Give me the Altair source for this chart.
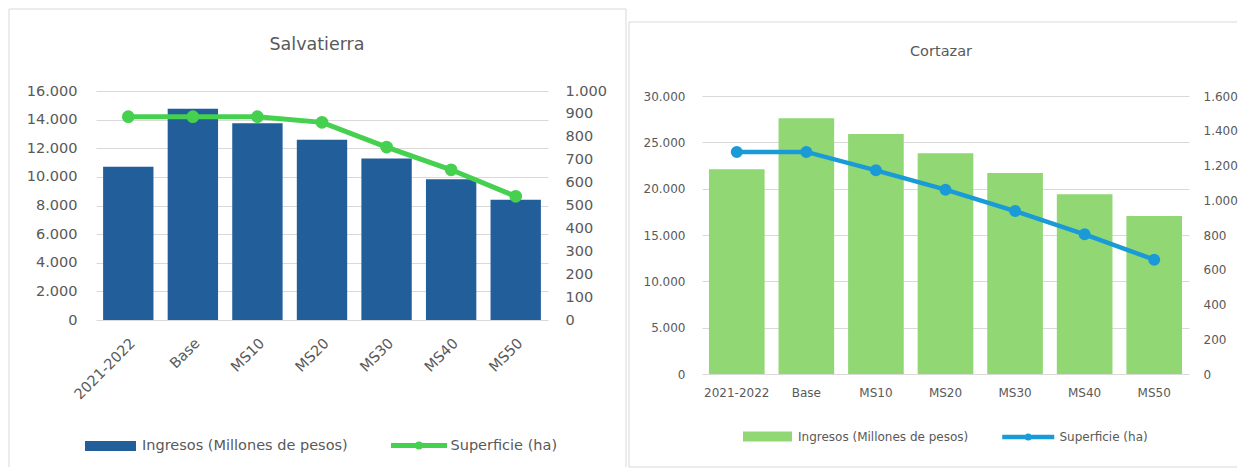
import altair as alt
import pandas as pd

# ---------------- data ----------------
categorias = ["2021-2022", "Base", "MS10", "MS20", "MS30", "MS40", "MS50"]

salv_titulo = "Salvatierra"
salv_ingresos = [10700, 14760, 13740, 12590, 11290, 9840, 8400]
salv_superficie = [888, 888, 888, 863, 755, 656, 540]
salv_ticks_izq = [0, 2000, 4000, 6000, 8000, 10000, 12000, 14000, 16000]
salv_ticks_der = [0, 100, 200, 300, 400, 500, 600, 700, 800, 900, 1000]

cort_titulo = "Cortazar"
cort_ingresos = [22090, 27590, 25900, 23820, 21690, 19390, 17050]
cort_superficie = [1278, 1278, 1172, 1061, 938, 804, 658]
cort_ticks_izq = [0, 5000, 10000, 15000, 20000, 25000, 30000]
cort_ticks_der = [0, 200, 400, 600, 800, 1000, 1200, 1400, 1600]

serie_ingresos = "Ingresos (Millones de pesos)"
serie_superficie = "Superficie (ha)"

# ---------------- style ----------------
FONT = "DejaVu Sans"
TEXT = "#595959"
GRID = "#d9d9d9"
BAR_PATH = "M-1,-0.2H1V0.2H-1Z"
LINE_PATH = "M-1,0H1M-0.05,0A0.05,0.05,0,1,0,0.05,0A0.05,0.05,0,1,0,-0.05,0"
LABEL_EXPR = "replace(format(datum.value, ','), ',', '.')"

deco_df = pd.DataFrame({"k": [0]})


def rule(x1, x2, y1, y2):
    return alt.Chart(deco_df).mark_rule(color=GRID, strokeWidth=1).encode(
        x=alt.value(x1), x2=alt.value(x2), y=alt.value(y1), y2=alt.value(y2)
    )


def panel(p):
    df = pd.DataFrame({
        "categoria": categorias,
        "ingresos": p["ingresos"],
        "superficie": p["superficie"],
    })
    base = alt.Chart(df).transform_calculate(
        s_ing="'" + serie_ingresos + "'",
        s_sup="'" + serie_superficie + "'",
    )
    fs = p["fs"]
    yrange = [p["h"], p["top"]]
    x = alt.X(
        "categoria:N", sort=categorias, title=None,
        scale=alt.Scale(paddingInner=p["pi"], paddingOuter=p["po"]),
        axis=alt.Axis(labelAngle=p["angle"], labelFontSize=fs, labelFont=FONT,
                      labelColor=TEXT, ticks=False, domain=False,
                      labelPadding=p["xpad"], grid=False),
    )
    bars = base.mark_bar().encode(
        x=x,
        y=alt.Y("ingresos:Q", title=None,
                scale=alt.Scale(domain=[0, p["ymax_l"]], nice=False, range=yrange),
                axis=alt.Axis(orient="left", values=p["ticks_l"], labelExpr=LABEL_EXPR,
                              grid=True, gridColor=GRID, gridWidth=1, ticks=False,
                              domain=False, labelPadding=p["lpad"], labelFontSize=fs,
                              labelFont=FONT, labelColor=TEXT)),
        fill=alt.Fill("s_ing:N", scale=alt.Scale(domain=[serie_ingresos], range=[p["bar_color"]]),
                      legend=alt.Legend(title=None, orient="none", legendX=p["lb_x"], legendY=p["lb_y"],
                                        symbolType=BAR_PATH, symbolSize=p["lb_w"] ** 2,
                                        symbolStrokeWidth=0, labelFontSize=fs, labelFont=FONT,
                                        labelColor=TEXT, labelOffset=p["lb_off"], labelLimit=400,
                                        padding=0)),
    )
    line = base.mark_line(
        strokeWidth=p["lw"],
        point=alt.OverlayMarkDef(filled=True, size=p["ps"], color=p["line_color"]),
    ).encode(
        x=x,
        y=alt.Y("superficie:Q", title=None,
                scale=alt.Scale(domain=[0, p["ymax_r"]], nice=False, range=yrange),
                axis=alt.Axis(orient="right", values=p["ticks_r"], labelExpr=LABEL_EXPR,
                              grid=False, ticks=False, domain=False, labelPadding=p["rpad"],
                              labelFontSize=fs, labelFont=FONT, labelColor=TEXT)),
        stroke=alt.Stroke("s_sup:N", scale=alt.Scale(domain=[serie_superficie], range=[p["line_color"]]),
                          legend=alt.Legend(title=None, orient="none", legendX=p["ll_x"], legendY=p["ll_y"],
                                            symbolType=LINE_PATH, symbolSize=p["ll_w"] ** 2,
                                            symbolStrokeWidth=p["lw"], labelFontSize=fs, labelFont=FONT,
                                            labelColor=TEXT, labelOffset=p["ll_off"], labelLimit=400,
                                            padding=0)),
    )
    title = alt.Chart(deco_df).mark_text(
        text=p["titulo"], font=FONT, fontSize=p["tfs"], color=TEXT, align="center", baseline="middle"
    ).encode(x=alt.value(p["tx"]), y=alt.value(p["ty"]))

    layers = [r for r in p["borders"]] + [bars, line, title]
    return alt.layer(*layers).resolve_scale(y="independent").properties(
        width=p["w"], height=p["h"]
    )


left = panel(dict(
    titulo=salv_titulo, ingresos=salv_ingresos, superficie=salv_superficie,
    ticks_l=salv_ticks_izq, ticks_r=salv_ticks_der, ymax_l=16000, ymax_r=1000,
    w=452, h=229, top=0, pi=0.22, po=0.11, angle=-45, fs=14.5, xpad=16, lpad=19, rpad=17,
    bar_color="#225E9A", line_color="#46D04F", lw=5, ps=115,
    lb_x=-11, lb_y=329.5, lb_w=51, lb_off=6,
    ll_x=292.5, ll_y=324, ll_w=56, ll_off=1,
    tfs=17.5, tx=221, ty=-46,
    borders=[
        rule(-87, 530, -82, -82),
        rule(-87, -87, -82, 376),
        rule(530, 530, -82, 376),
    ],
))

right = panel(dict(
    titulo=cort_titulo, ingresos=cort_ingresos, superficie=cort_superficie,
    ticks_l=cort_ticks_izq, ticks_r=cort_ticks_der, ymax_l=30000, ymax_r=1600,
    w=487, h=283, top=5, pi=0.2, po=0.1, angle=0, fs=12, xpad=13, lpad=17, rpad=14,
    bar_color="#91D875", line_color="#1A9BD7", lw=4.5, ps=100,
    lb_x=41, lb_y=321, lb_w=49, lb_off=6,
    ll_x=297.75, ll_y=317.5, ll_w=52, ll_off=2.75,
    tfs=14.5, tx=239, ty=-39,
    borders=[
        rule(-73, 535, -69, -69),
        rule(-73, -73, -69, 376),
        rule(-73, 535, 376, 376),
    ],
))

chart = alt.hconcat(left, right, spacing=1).resolve_scale(
    fill="independent", stroke="independent", y="independent"
).resolve_legend(fill="independent", stroke="independent").properties(
    padding=0, background="white"
).configure_view(strokeWidth=0)

chart.save("out.html", embed_options={"renderer": "svg", "actions": False})
